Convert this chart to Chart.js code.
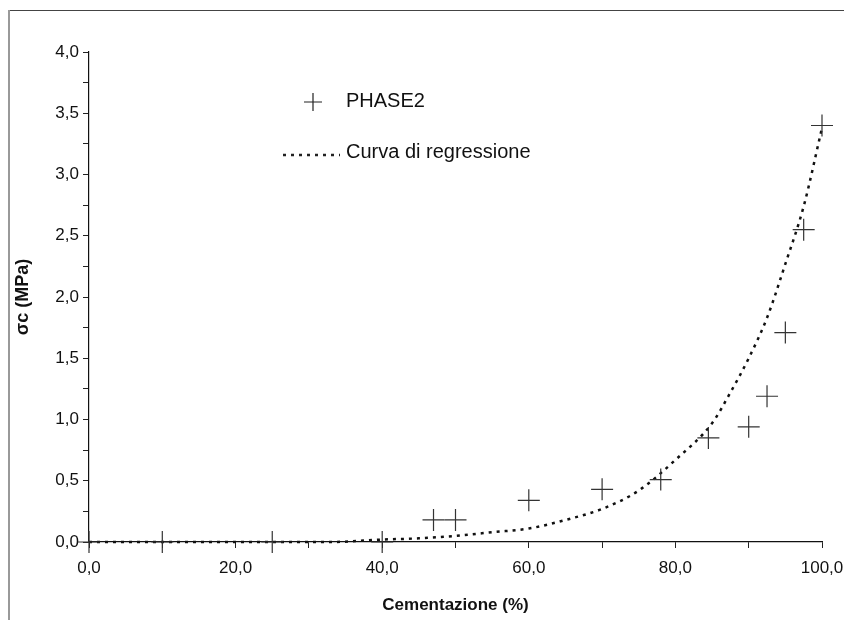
<!DOCTYPE html>
<html>
<head>
<meta charset="utf-8">
<script src="https://cdn.jsdelivr.net/npm/chart.js@4"></script>
<style>
  body { margin: 0; background: #fff; }
  #wrap { position: relative; width: 844px; height: 620px; }
  #frameTop { position: absolute; left: 9px; top: 10px; width: 835px; height: 1px; background: #444; }
  #frameLeft { position: absolute; left: 8px; top: 10px; width: 2px; height: 610px; background: #999; }
  canvas { position: absolute; left: 0; top: 0; }
</style>
</head>
<body>
<div id="wrap">
  <canvas id="grafico" width="844" height="620"></canvas>
  <div id="frameTop"></div>
  <div id="frameLeft"></div>
</div>
<script>
// Punti sperimentali PHASE2
const phaseX = [0, 10, 25, 40, 47, 50, 60, 70, 78, 84.5, 90, 92.5, 95, 97.5, 100];
const phaseY = [0, 0, 0, 0, 0.18, 0.18, 0.34, 0.43, 0.51, 0.85, 0.94, 1.19, 1.71, 2.55, 3.40];

// Curva di regressione
const curveX = [0, 20, 33, 40, 45, 50, 55, 60, 65, 70, 75, 80, 85, 87.5, 90, 92.5, 95, 97.5, 100];
const curveY = [0, 0, 0, 0.02, 0.03, 0.05, 0.08, 0.11, 0.18, 0.27, 0.42, 0.67, 0.97, 1.22, 1.50, 1.83, 2.27, 2.74, 3.38];

const legendLabels = ['PHASE2', 'Curva di regressione'];

const FONT = '"Liberation Sans", Arial, sans-serif';

function virgola(v) {
    return v.toFixed(1).replace('.', ',');
}

// Legenda disegnata dentro il grafico
const legendaInterna = {
    id: 'legendaInterna',
    afterDraw(chart) {
        const ctx = chart.ctx;
        ctx.save();
        ctx.strokeStyle = '#222';
        ctx.lineWidth = 1.2;
        ctx.beginPath();
        ctx.moveTo(304, 102); ctx.lineTo(322, 102);
        ctx.moveTo(313, 93); ctx.lineTo(313, 111);
        ctx.stroke();

        ctx.lineWidth = 2.5;
        ctx.setLineDash([3, 5]);
        ctx.beginPath();
        ctx.moveTo(283, 155); ctx.lineTo(340, 155);
        ctx.stroke();
        ctx.setLineDash([]);

        ctx.fillStyle = '#111';
        ctx.font = '20px ' + FONT;
        ctx.textBaseline = 'middle';
        ctx.fillText(legendLabels[0], 346, 101);
        ctx.fillText(legendLabels[1], 346, 152);
        ctx.restore();
    }
};

const ctx = document.getElementById('grafico').getContext('2d');
new Chart(ctx, {
    type: 'scatter',
    data: {
        datasets: [
            {
                label: legendLabels[0],
                data: phaseX.map((x, i) => ({ x: x, y: phaseY[i] })),
                pointStyle: 'cross',
                pointRadius: 11,
                pointBorderWidth: 1.2,
                borderColor: '#333',
                backgroundColor: '#333',
                showLine: false,
                clip: false
            },
            {
                label: legendLabels[1],
                data: curveX.map((x, i) => ({ x: x, y: curveY[i] })),
                showLine: true,
                borderColor: '#111',
                borderWidth: 2.5,
                borderDash: [3, 5],
                pointRadius: 0,
                cubicInterpolationMode: 'monotone',
                clip: false
            }
        ]
    },
    options: {
        responsive: false,
        animation: false,
        devicePixelRatio: 1,
        layout: { padding: { left: 12, right: 22, top: 52, bottom: 0 } },
        plugins: {
            legend: { display: false },
            tooltip: { enabled: false }
        },
        scales: {
            x: {
                type: 'linear',
                min: 0,
                max: 100,
                afterFit: s => { s.height = 78; s.paddingRight = 0; s.paddingLeft = 0; },
                grid: { display: true, drawOnChartArea: false, drawTicks: true, tickLength: 6, color: '#222' },
                border: { display: true, color: '#111', width: 1.2 },
                ticks: {
                    stepSize: 10,
                    autoSkip: false,
                    maxRotation: 0,
                    padding: 10,
                    color: '#111',
                    font: { family: FONT, size: 17 },
                    callback: v => (v % 20 === 0 ? virgola(v) : '')
                },
                title: {
                    display: true,
                    text: 'Cementazione (%)',
                    color: '#111',
                    padding: { top: 0, bottom: 4 },
                    font: { family: FONT, size: 17, weight: 'bold' }
                }
            },
            y: {
                type: 'linear',
                min: 0,
                max: 4,
                afterFit: s => { s.width = 77; },
                grid: { display: true, drawOnChartArea: false, drawTicks: true, tickLength: 6, color: '#222' },
                border: { display: true, color: '#111', width: 1.2 },
                ticks: {
                    stepSize: 0.25,
                    autoSkip: false,
                    padding: 4,
                    color: '#111',
                    font: { family: FONT, size: 17 },
                    callback: v => (Math.abs(v * 2 - Math.round(v * 2)) < 1e-6 ? virgola(v) : '')
                },
                title: {
                    display: true,
                    text: 'σc (MPa)',
                    color: '#111',
                    padding: { top: 0, bottom: 0 },
                    font: { family: FONT, size: 18, weight: 'bold' }
                }
            }
        }
    },
    plugins: [legendaInterna]
});
</script>
</body>
</html>
